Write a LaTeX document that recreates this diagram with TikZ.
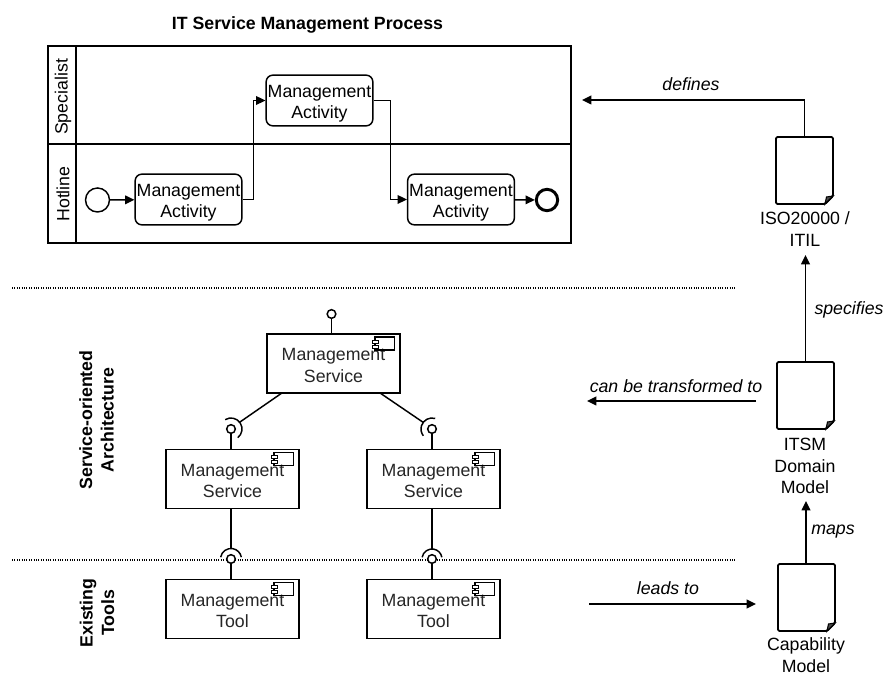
\documentclass[tikz,border=0pt]{standalone}
\usepackage{fontspec}
\setmainfont{Liberation Sans}
\usetikzlibrary{positioning}
\usetikzlibrary{calc,arrows.meta}
\newcommand{\liftact}{\rule{0pt}{14.5pt}}
\newcommand{\liftsrv}{\rule{0pt}{12pt}}

\begin{document}
\begin{tikzpicture}[x=0.75pt,y=-0.75pt,every node/.style={font=\fontsize{13.3}{16}\selectfont}]
 \useasboundingbox (0,0) rectangle (883,673);

 \tikzstyle{line}=[line width=1.1pt]
 \tikzstyle{activity}=[draw,line,rounded corners=5pt,align=center,inner sep=0pt,minimum width=80pt,minimum height=38pt]
 \tikzstyle{service}=[draw,line,align=center,inner sep=0pt,minimum width=100pt,minimum height=44pt,text=black!85]
 \tikzstyle{flow}=[line,-{Triangle[length=7pt,width=6.5pt]}]
 \tikzstyle{doc_label}=[align=center,inner sep=0pt]
 \tikzstyle{edge_label}=[font=\fontsize{13.3}{16}\selectfont\itshape,inner sep=0pt]
 \tikzstyle{side_label}=[rotate=90,align=center,font=\fontsize{13.3}{16}\selectfont\bfseries]
 \tikzstyle{ball}=[draw,line,circle,fill=white,inner sep=0pt,minimum size=6.5pt]
 \tikzstyle{separator}=[thick,densely dotted]

   %draw process pool
   \node (title) at (307.5,25) {\textbf{IT Service Management Process}};
   \node (pool) [draw,line width=1.4pt,inner sep=0pt,minimum width=392pt,minimum height=147.5pt] at (309.5,144.5) {};
   \draw[line width=1.4pt] (pool.north west) ++ (29,0) node (lane_top) {} -- (lane_top |- pool.south);
   \draw[line width=1.4pt] (48,144) coordinate (lane_l) -- (lane_l -| pool.east);
   \node (lane_specialist) [rotate=90] at (63,97) {Specialist};
   \node (lane_hotline) [rotate=90] at (63,194) {Hotline};

   \node (act_left) [activity] at (188.5,199.5) {\liftact Management\\Activity};
   \node (act_top) [activity] at (319.5,100.5) {\liftact Management\\Activity};
   \node (act_right) [activity] at (461,199.5) {\liftact Management\\Activity};
   \node (start) [draw,line,circle,inner sep=0pt,minimum size=18pt] at (97.5,200) {};
   \node (end) [draw,line width=2.2pt,circle,inner sep=0pt,minimum size=16pt] at (547,200) {};

   \draw[flow] (start) -- (act_left);
   \draw[flow] (act_left.east) -| ++(11,0) |- (act_top.west);
   \draw[flow] (act_top.east) -| ++(17,0) |- (act_right.west);
   \draw[flow] (act_right) -- (end);

   %draw separators
   \draw[separator] (12,288) coordinate (sep_a) -- (736,288);
   \draw[separator] (12,560) coordinate (sep_b) -- (736,560);

   %draw services and tools
   \node (srv_top) [service] at (333.5,363.5) {\liftsrv Management\\Service};
   \node (srv_left) [service] at (232.5,479) {\liftsrv Management\\Service};
   \node (srv_right) [service] at (433.5,479) {\liftsrv Management\\Service};
   \node (tool_left) [service] at (232.5,609) {\liftsrv Management\\Tool};
   \node (tool_right) [service] at (433.5,609) {\liftsrv Management\\Tool};

   \foreach \comp in {srv_top,srv_left,srv_right,tool_left,tool_right}{
    \draw[line] ($(\comp.north east)+(-26,3.5)$) rectangle ++(19.5,13);
    \draw[semithick,fill=white] ($(\comp.north east)+(-29,6.5)$) rectangle ++(6,3);
    \draw[semithick,fill=white] ($(\comp.north east)+(-29,11.5)$) rectangle ++(6,3);
   }

   \node (ball_top) [ball] at (331.5,314) {};
   \draw[line] (ball_top) -- (ball_top |- srv_top.north);

   \node (ball_left) [ball] at (231,429) {};
   \node (ball_right) [ball] at (432,429) {};
   \draw[line] (ball_left) -- (ball_left |- srv_left.north);
   \draw[line] (ball_right) -- (ball_right |- srv_right.north);
   %y axis points down here, so angles count clockwise
   \draw[line] (ball_left) ++ (-122:11) arc (-122:52:11);
   \draw[line] (ball_right) ++ (-73:11) arc (-73:-218:11);
   \draw[line] ($(srv_top.south west)+(15,0)$) coordinate (srv_top_l) -- ($(ball_left)+(-38:11)$);
   \draw[line] ($(srv_top.south east)+(-20,0)$) coordinate (srv_top_r) -- ($(ball_right)+(-143:11)$);

   \node (ball_tool_l) [ball] at (231,559) {};
   \node (ball_tool_r) [ball] at (432,559) {};
   \draw[line] (ball_tool_l) -- (ball_tool_l |- tool_left.north);
   \draw[line] (ball_tool_r) -- (ball_tool_r |- tool_right.north);
   \draw[line] (ball_tool_l) ++ (-170:10.5) arc (-170:-10:10.5);
   \draw[line] (ball_tool_r) ++ (-170:10) arc (-170:-10:10);
   \draw[line] (srv_left.south -| ball_tool_l) -- ($(ball_tool_l)+(-90:10.5)$);
   \draw[line] (srv_right.south -| ball_tool_r) -- ($(ball_tool_r)+(-90:10)$);

   %draw side labels
   \node (soa_label) [side_label] at (96.5,420) {Service-oriented\\Architecture};
   \node (tools_label) [side_label] at (97,613) {Existing\\Tools};

   %draw documents
   \foreach \docname/\xx/\yy in {doc_iso/776/137,doc_itsm/777/362,doc_cap/778/564}{
    \draw[line width=1.4pt,rounded corners=1pt] (\xx,\yy) coordinate (\docname) -- ++(57,0) -- ++(0,59) -- ++(-8,8) -- ++(-49,0) -- cycle;
    \draw[thick,fill=black!70] ($(\docname)+(57,59)$) -- ++(-8,8) -- ++(1.5,-7) -- cycle;
   }
   \node (iso_label) [doc_label] at (805,229) {ISO20000 /\\ITIL};
   \node (itsm_label) [doc_label] at (805,466) {ITSM\\Domain\\Model};
   \node (cap_label) [doc_label] at (806,655) {Capability\\Model};

   %draw relations
   \coordinate (iso_top) at ($(doc_iso)+(28.5,0)$);
   \coordinate (itsm_top) at ($(doc_itsm)+(28.5,0)$);
   \coordinate (cap_top) at ($(doc_cap)+(28,0)$);
   \coordinate (defines_end) at (582,100);
   \coordinate (transform_start) at (756,401);
   \coordinate (transform_end) at (587,401);
   \coordinate (leads_start) at (589,604);
   \coordinate (leads_end) at (756,604);
   \draw[flow] (iso_top) |- (defines_end);
   \draw[flow] (itsm_top) -- ++(0,-107) coordinate (specifies_end);
   \draw[flow] (cap_top) -- ++(0,-63) coordinate (maps_end);
   \draw[flow] (transform_start) -- (transform_end);
   \draw[flow] (leads_start) -- (leads_end);
   \node (defines_label) [edge_label] at (691,84) {defines};
   \node (specifies_label) [edge_label] at (849,310) {specifies};
   \node (transform_label) [edge_label] at (676,386) {can be transformed to};
   \node (maps_label) [edge_label] at (833,532) {maps};
   \node (leads_label) [edge_label] at (668,588) {leads to};

\end{tikzpicture}
\end{document}
